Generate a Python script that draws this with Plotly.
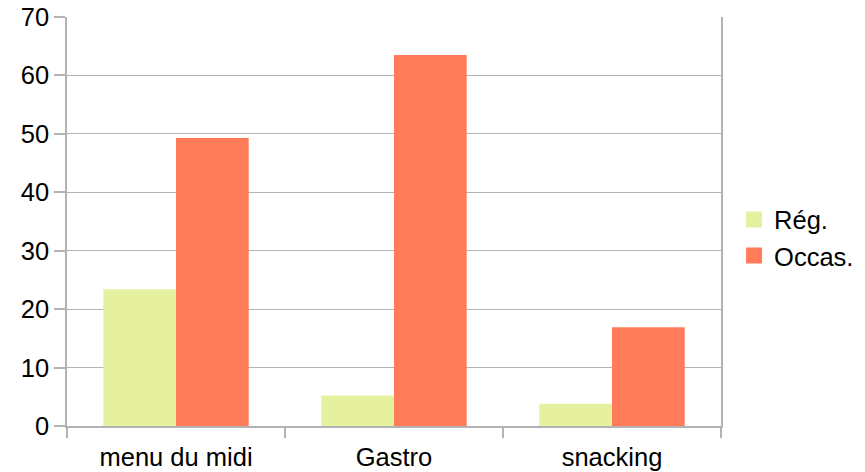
import plotly.graph_objects as go

categories = ["menu du midi", "Gastro", "snacking"]
reg_values = [23.4, 5.2, 3.8]
occas_values = [49.3, 63.5, 16.9]
series_names = ["Rég.", "Occas."]
series_colors = ["#e6f19f", "#ff7b59"]
y_ticks = [0, 10, 20, 30, 40, 50, 60, 70]

fig = go.Figure()
for name, vals, col in zip(series_names, [reg_values, occas_values], series_colors):
    fig.add_trace(go.Bar(x=categories, y=vals, name=name, showlegend=False,
                         marker=dict(color=col, line=dict(width=0))))
# legend entries with larger square swatches
for i, (name, col) in enumerate(zip(series_names, series_colors)):
    fig.add_trace(go.Scatter(x=[None], y=[None], mode="markers", name=name,
                             legendgroup=f"g{i}",
                             marker=dict(symbol="square", size=16, color=col)))

fig.update_layout(
    width=865, height=472,
    margin=dict(l=59, r=152, t=9, b=54, autoexpand=False),
    paper_bgcolor="white", plot_bgcolor="white",
    barmode="group", bargap=0.333, bargroupgap=0,
    font=dict(family="Liberation Sans, Arial, sans-serif", size=25.5, color="#000000"),
    legend=dict(x=1.02, y=0.46, xanchor="left", yanchor="middle",
                font=dict(size=25.5), tracegroupgap=5, traceorder="normal"),
    showlegend=True,
)
fig.update_xaxes(
    type="category", tickson="boundaries", ticks="outside", ticklen=10,
    tickcolor="#b3b3b3", tickwidth=1.5, showline=True, linecolor="#b3b3b3", linewidth=1.5,
    mirror=False, showgrid=False, tickfont=dict(size=25.5), ticklabelstandoff=8,
)
fig.update_yaxes(
    range=[0, 70], tickvals=y_ticks, ticks="outside", ticklen=11,
    tickcolor="#b3b3b3", tickwidth=1.5, showline=True, linecolor="#b3b3b3", linewidth=1.5,
    mirror=True, showgrid=True, gridcolor="#b3b3b3", gridwidth=1.2,
    zeroline=False, tickfont=dict(size=25.5), ticklabeloverflow="allow",
)

fig.write_html("out.html")
